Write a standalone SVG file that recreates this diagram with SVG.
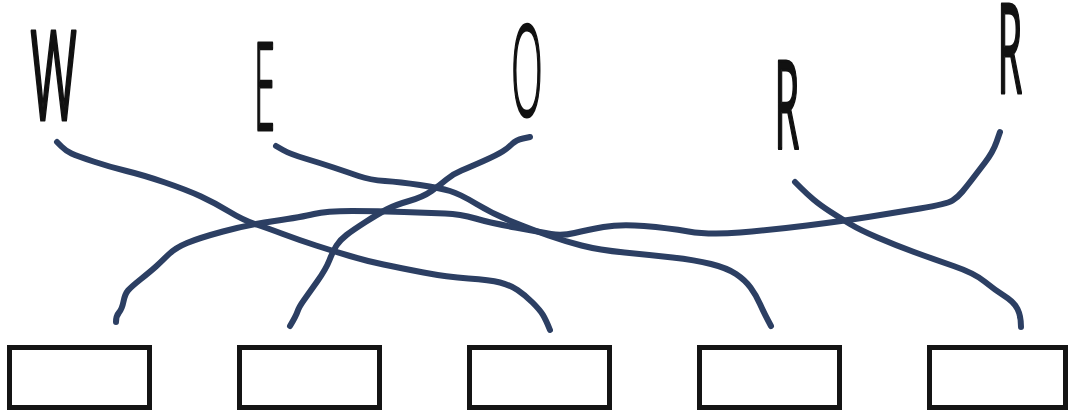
<svg xmlns="http://www.w3.org/2000/svg" width="1069" height="412" viewBox="0 0 1069 412">
<style>
.bg{fill:#ffffff}
.letter{font-family:"Open Sans","Liberation Sans",Arial,sans-serif;font-weight:300;font-size:100px;fill:#111111;stroke:#111111;stroke-width:2.4px;stroke-linejoin:round;vector-effect:non-scaling-stroke;text-anchor:middle}
.heavy{font-weight:400}
.box{fill:#ffffff;stroke:#141414;stroke-width:5}
.wire{fill:none;stroke:#2c3f63;stroke-width:6;stroke-linecap:round;stroke-linejoin:round}
</style>
<rect class="bg" x="0" y="0" width="1069" height="412"/>
<g id="letter-W"><text class="letter heavy" transform="matrix(0.5,0,0,1.24,53.5,120)" x="0" y="0">W</text></g>
<g id="letter-E"><text class="letter" transform="matrix(0.38,0,0,1.21,264.6,130)" x="0" y="0">E</text></g>
<g id="letter-O"><text class="letter" transform="matrix(0.41,0,0,1.26,527,116)" x="0" y="0">O</text></g>
<g id="letter-R1"><text class="letter heavy" transform="matrix(0.4,0,0,1.23,786.8,149)" x="0" y="0">R</text></g>
<g id="letter-R2"><text class="letter heavy" transform="matrix(0.4,0,0,1.24,1009.8,93)" x="0" y="0">R</text></g>
<g id="box-1"><rect class="box" x="9.5" y="347.5" width="140" height="60"/></g>
<g id="box-2"><rect class="box" x="239.5" y="347.5" width="140" height="60"/></g>
<g id="box-3"><rect class="box" x="469.5" y="347.5" width="140" height="60"/></g>
<g id="box-4"><rect class="box" x="699.5" y="347.5" width="140" height="60"/></g>
<g id="box-5"><rect class="box" x="929.5" y="347.5" width="136" height="60"/></g>
<g id="connectors">
<path class="wire" d="M57,142 L61.5,146.5 Q66,151 71.5,153.5 Q77,156 93.5,161.5 Q110,167 126.5,171 Q143,175 165,182.5 Q187,190 201,196.5 Q215,203 229,211.5 Q243,220 255,224 Q267,228 283,234 Q299,240 316,245.5 Q333,251 350,256 Q367,261 383.5,264.5 Q400,268 423.5,272.5 Q447,277 468.5,278.5 Q490,280 500,282.5 Q510,285 517.5,290 Q525,295 532.5,302.5 Q540,310 543,315 Q546,320 550,330"/>
<path class="wire" d="M276,146 L283,150 Q290,154 305,158.5 Q320,163 333.5,167.5 Q347,172 358.5,176 Q370,180 385,181 Q400,182 420,185 Q440,188 450,191 Q460,194 476.5,204 Q493,214 513,222 Q533,230 548.5,235.5 Q564,241 581.5,245.5 Q599,250 624.5,252.5 Q650,255 672.5,257.5 Q695,260 711,264 Q727,268 736,274 Q745,280 750.5,287.5 Q756,295 760,304 Q764,313 771,326"/>
<path class="wire" d="M530,137 L523,138.5 Q516,140 512,144 Q508,148 502.5,151.5 Q497,155 483.5,161 Q470,167 461.5,170.5 Q453,174 446.5,179.5 Q440,185 431.5,191 Q423,197 409,201 Q395,205 386.5,209.5 Q378,214 365.5,222 Q353,230 346.5,235 Q340,240 336.5,245.5 Q333,251 329.5,260 Q326,269 317.5,281 Q309,293 304,300 Q299,307 297.5,311.5 Q296,316 290,326"/>
<path class="wire" d="M795,182 L801,188 Q807,194 813.5,199.5 Q820,205 830,211.5 Q840,218 850,224 Q860,230 877.5,237.5 Q895,245 914,252 Q933,259 953.5,266 Q974,273 984.5,281.5 Q995,290 1004.5,296 Q1014,302 1017.5,309 Q1021,316 1021,327"/>
<path class="wire" d="M1000,132 L996.5,142 Q993,152 985,162.5 Q977,173 972,179.5 Q967,186 962.5,191.5 Q958,197 952.5,200.5 Q947,204 920,208.5 Q893,213 868,217 Q843,221 807,225.5 Q771,230 740,232.5 Q709,235 688.5,231.5 Q668,228 644,226 Q620,224 603.5,227 Q587,230 574.5,233 Q562,236 551,234 Q540,232 515.5,227.5 Q491,223 475.5,218.5 Q460,214 445,213.5 Q430,213 404,212 Q378,211 352,211 Q326,211 314,214 Q302,217 274.5,221 Q247,225 223,231.5 Q199,238 187,243 Q175,248 168,255 Q161,262 156,266.5 Q151,271 141,279 Q131,287 128,290.5 Q125,294 123.5,301.5 Q122,309 119,312.5 Q116,316 116,322"/>
</g>
</svg>
